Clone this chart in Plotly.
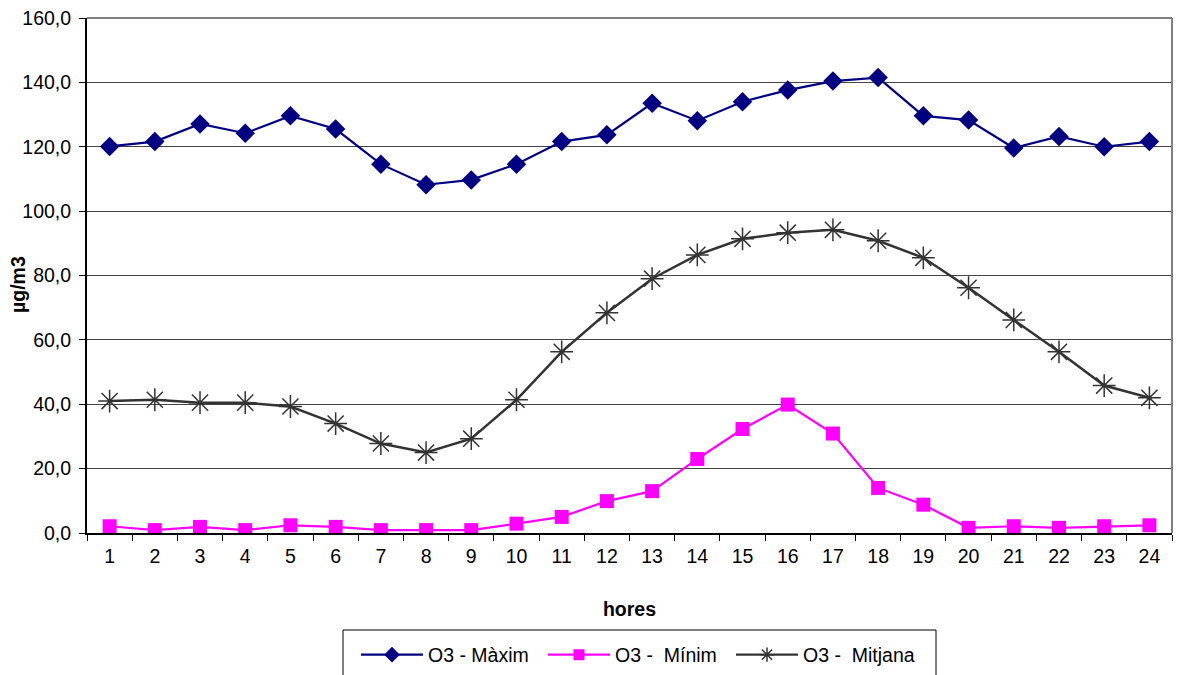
import plotly.graph_objects as go

hores = [str(i) for i in range(1, 25)]
maxim = [120.1, 121.6, 127.1, 124.2, 129.6, 125.5, 114.6, 108.2, 109.7, 114.6, 121.6, 123.7,
         133.5, 128.1, 134.0, 137.6, 140.4, 141.5, 129.6, 128.3, 119.6, 123.2, 120.0, 121.6]
minim = [2.1, 0.9, 1.9, 0.9, 2.4, 1.9, 0.9, 0.9, 0.9, 2.9, 5.0, 9.9,
         13.0, 23.0, 32.3, 39.9, 30.9, 14.0, 8.8, 1.6, 2.1, 1.6, 2.1, 2.4]
mitjana = [41.0, 41.4, 40.5, 40.5, 39.3, 34.0, 27.8, 25.0, 29.3, 41.4, 56.3, 68.4,
           79.0, 86.4, 91.4, 93.3, 94.2, 90.8, 85.5, 76.2, 66.2, 56.3, 45.8, 42.0]
y_ticks = [0, 20, 40, 60, 80, 100, 120, 140, 160]
series_names = ["O3 - Màxim", "O3 -\u00a0 Mínim", "O3 -\u00a0 Mitjana"]

FONT = "Liberation Sans, Arial, sans-serif"
FS = 19.5
W, H = 1179, 675
L, R, T, B = 87, 7, 18, 142
PW = W - L - R
PH = H - T - B


def px_x(p):
    return (p - L) / PW


def px_y(p):
    return (H - B - p) / PH


styles = [
    dict(color="#000080", lw=2.2, symbol="diamond", size=15, lsize=12),
    dict(color="#FF00FF", lw=2.2, symbol="square", size=14, lsize=11),
    dict(color="#333333", lw=2.5, symbol="asterisk-open", size=19, lsize=12),
]
legends = ["legend", "legend2", "legend3"]

fig = go.Figure()
for vals, name, st, lg in zip([maxim, minim, mitjana], series_names, styles, legends):
    mk = dict(symbol=st["symbol"], size=st["size"], color=st["color"])
    if st["symbol"] == "asterisk-open":
        mk["line"] = dict(color=st["color"], width=1.5)
    fig.add_trace(go.Scatter(x=hores, y=vals, mode="lines+markers", name=name,
                             showlegend=False,
                             line=dict(color=st["color"], width=st["lw"]), marker=mk))
    # legend-only entry (smaller symbol as in the original legend)
    lmk = dict(symbol=st["symbol"], size=st["lsize"], color=st["color"])
    if st["symbol"] == "asterisk-open":
        lmk["line"] = dict(color=st["color"], width=1.5)
    fig.add_trace(go.Scatter(x=[None], y=[None], mode="lines+markers", name=name,
                             legend=lg, showlegend=True,
                             line=dict(color=st["color"], width=2.2), marker=lmk))

leg_common = dict(orientation="h", xref="container", yref="container",
                  yanchor="middle", y=(H - 655) / H, xanchor="left",
                  borderwidth=0, font=dict(size=FS), itemwidth=62,
                  itemsizing="trace", bgcolor="rgba(0,0,0,0)")

fig.update_layout(
    width=W, height=H,
    margin=dict(l=L, r=R, t=T, b=B),
    paper_bgcolor="white", plot_bgcolor="white",
    font=dict(family=FONT, size=FS, color="black"),
    separators=",.",
    showlegend=True,
    legend=dict(leg_common, x=356 / W),
    legend2=dict(leg_common, x=543 / W),
    legend3=dict(leg_common, x=731 / W),
    xaxis=dict(type="category", range=[-0.5, 23.5], tickson="boundaries",
               ticks="outside", ticklen=6, automargin=False, ticklabelstandoff=5,
               tickcolor="black", showline=True, linecolor="black", linewidth=1.5,
               showgrid=False, tickfont=dict(size=FS),
               title=dict(text="<b>hores</b>", font=dict(size=FS), standoff=36)),
    yaxis=dict(range=[0, 160], tickvals=y_ticks, tickformat=".1f", ticks="outside",
               ticklen=6, tickcolor="black", showline=True, linecolor="black",
               linewidth=2, showgrid=True, gridcolor="#444444", gridwidth=1,
               zeroline=False, tickfont=dict(size=FS), automargin=False,
               ticklabelstandoff=4),
    annotations=[
        dict(text="<b>µg/m3</b>", xref="paper", yref="paper", x=px_x(18), y=px_y(285),
             xanchor="center", yanchor="middle", textangle=-90, showarrow=False,
             font=dict(size=FS)),
    ],
    shapes=[
        dict(type="line", xref="paper", yref="paper", x0=0, x1=1, y0=1, y1=1,
             line=dict(color="#808080", width=2)),
        dict(type="line", xref="paper", yref="paper", x0=1, x1=1, y0=0, y1=1,
             line=dict(color="#808080", width=2)),
        dict(type="rect", xref="paper", yref="paper", x0=px_x(343), x1=px_x(936),
             y0=px_y(630), y1=px_y(690), line=dict(color="black", width=1),
             fillcolor="rgba(0,0,0,0)"),
    ],
)

fig.write_html("out.html", config={"displayModeBar": False},
               post_script="document.body.style.margin='0';document.body.style.overflow='hidden';")
